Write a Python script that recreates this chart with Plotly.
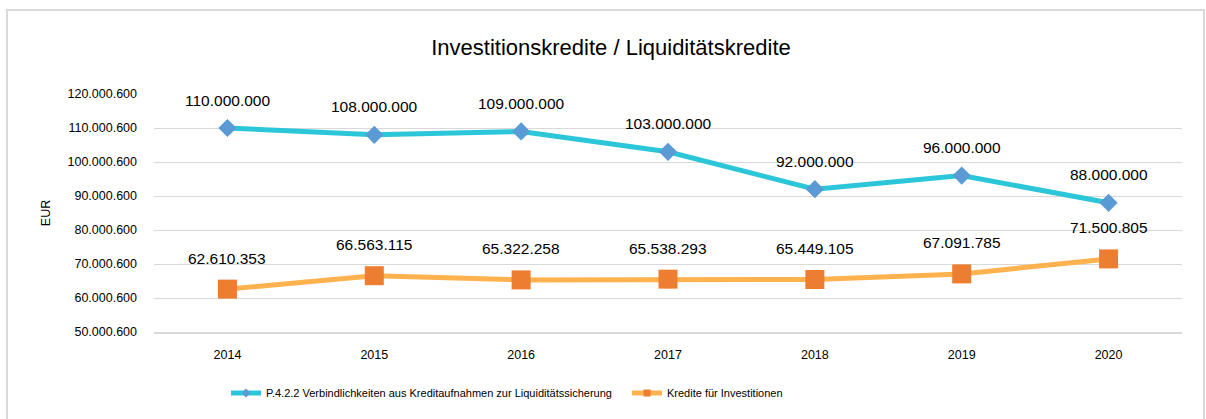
import plotly.graph_objects as go

years = ["2014", "2015", "2016", "2017", "2018", "2019", "2020"]
liquiditaet = [110000000, 108000000, 109000000, 103000000, 92000000, 96000000, 88000000]
investitionen = [62610353, 66563115, 65322258, 65538293, 65449105, 67091785, 71500805]
tick_values = [50000600, 60000600, 70000600, 80000600, 90000600, 100000600, 110000600, 120000600]

name_liq = "P.4.2.2 Verbindlichkeiten aus Kreditaufnahmen zur Liquiditätssicherung"
name_inv = "Kredite für Investitionen"

FONT = "Liberation Sans, Arial, sans-serif"
CYAN, BLUE = "#2CC6D9", "#5B9BD5"
YELLOW, ORANGE = "#FFB24D", "#ED7D31"


def fmt(v):
    return f"{v:,}".replace(",", ".")


fig = go.Figure()
fig.add_trace(go.Scatter(
    x=years, y=liquiditaet, name=name_liq, mode="lines+markers", showlegend=False,
    line=dict(color=CYAN, width=5),
    marker=dict(symbol="diamond", size=14, color=BLUE),
))
fig.add_trace(go.Scatter(
    x=years, y=investitionen, name=name_inv, mode="lines+markers", showlegend=False,
    line=dict(color=YELLOW, width=5),
    marker=dict(symbol="square", size=19, color=ORANGE),
))
# legend entries (small markers like the original legend)
fig.add_trace(go.Scatter(
    x=[None], y=[None], name=name_liq, mode="lines+markers",
    line=dict(color=CYAN, width=5),
    marker=dict(symbol="diamond", size=7, color=BLUE),
))
fig.add_trace(go.Scatter(
    x=[None], y=[None], name=name_inv, mode="lines+markers",
    line=dict(color=YELLOW, width=5),
    marker=dict(symbol="square", size=7, color=ORANGE),
))

annotations = []
for i, v in enumerate(liquiditaet):
    annotations.append(dict(x=i, y=v, xref="x", yref="y", text=fmt(v), showarrow=False,
                            yshift=28, font=dict(family=FONT, size=15.5, color="#000000")))
for i, v in enumerate(investitionen):
    annotations.append(dict(x=i, y=v, xref="x", yref="y", text=fmt(v), showarrow=False,
                            yshift=31, font=dict(family=FONT, size=15.5, color="#000000")))

fig.update_layout(
    width=1206, height=419,
    margin=dict(l=154, r=24, t=94, b=87),
    paper_bgcolor="white", plot_bgcolor="white",
    font=dict(family=FONT, size=12, color="#000000"),
    title=dict(text="Investitionskredite / Liquiditätskredite", x=611 / 1206,
               xref="container", xanchor="center", y=1 - 47 / 419, yanchor="middle",
               font=dict(family=FONT, size=22, color="#000000")),
    showlegend=True,
    legend=dict(orientation="h", x=(226 - 154) / 1028, xanchor="left", y=-0.256,
                yanchor="middle", font=dict(family=FONT, size=11, color="#000000"),
                tracegroupgap=0, entrywidth=356, entrywidthmode="pixels"),
    annotations=annotations,
    shapes=[dict(type="rect", xref="paper", yref="paper",
                 x0=-147 / 1028, x1=1050 / 1028, y0=-0.5, y1=322 / 238,
                 line=dict(color="#D9D9D9", width=2), fillcolor="rgba(0,0,0,0)",
                 layer="below")],
)
fig.update_xaxes(type="category", showgrid=False, showline=True, linecolor="#D9D9D9",
                 linewidth=2, ticks="", tickfont=dict(size=12.5), ticklabelstandoff=10,
                 range=[-0.5, 6.5])
fig.update_yaxes(range=[50000600, 120000600], tickvals=tick_values,
                 ticktext=[fmt(v) for v in tick_values], showgrid=True,
                 gridcolor="#D9D9D9", gridwidth=1, zeroline=False, showline=False,
                 ticks="", tickfont=dict(size=12.5), ticklabelstandoff=16,
                 title=dict(text="EUR", font=dict(size=12.5), standoff=14))

fig.write_html("out.html", config={"displayModeBar": False},
               post_script="document.body.style.margin='0';")
